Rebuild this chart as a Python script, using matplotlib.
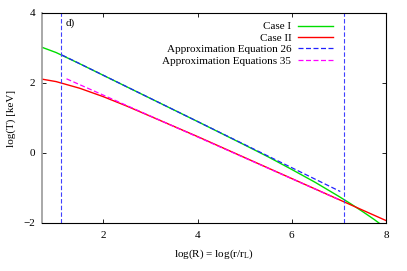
import matplotlib.pyplot as plt

# =========================
# DATA
# =========================
case1_R = [0.7, 1.0, 1.5, 2.0, 3.0, 4.0, 5.0, 5.5, 6.0, 6.5, 7.0, 7.25, 7.5, 7.75, 8.0]
case1_T = [3.02, 2.87, 2.55, 2.22, 1.56, 0.90, 0.23, -0.11, -0.47, -0.84, -1.24, -1.45, -1.67, -1.90, -2.15]

case2_R = [0.7, 1.0, 1.5, 2.0, 2.5, 3.0, 4.0, 5.0, 6.0, 7.0, 8.0]
case2_T = [2.11, 2.04, 1.85, 1.61, 1.34, 1.05, 0.47, -0.13, -0.73, -1.33, -1.93]

eq26_R = [1.125, 7.03]
eq26_T = [2.80, -1.10]

eq35_R = [1.22, 7.03]
eq35_T = [2.12, -1.35]

vlines_R = [1.1, 7.1]

# =========================
# FIGURE
# =========================
plt.rcParams["font.family"] = ["Liberation Serif", "DejaVu Serif"]
plt.rcParams["font.size"] = 8
plt.rcParams["mathtext.fontset"] = "custom"
plt.rcParams["mathtext.rm"] = "Liberation Serif"
plt.rcParams["mathtext.it"] = "Liberation Serif:italic"

fig = plt.figure(figsize=(4.07, 2.71), dpi=100)
ax = fig.add_axes([42 / 407, 48 / 271, 344 / 407, 210 / 271])

ax.plot(case1_R, case1_T, color="#00dd00", lw=1.0, label="Case I")
ax.plot(case2_R, case2_T, color="#ff0000", lw=1.0, label="Case II")
ax.plot(eq26_R, eq26_T, color="#2020ff", lw=0.9, ls=(0, (4, 2)), label="Approximation Equation 26")
ax.plot(eq35_R, eq35_T, color="#ff00ff", lw=0.9, ls=(0, (4, 2)), label="Approximation Equations 35")

for r in vlines_R:
    ax.axvline(r, color="#4040ff", lw=0.8, ls=(0, (4, 2)))

ax.set_xlim(0.7, 8)
ax.set_ylim(-2, 4)
ax.set_xticks([2, 4, 6, 8])
ax.set_yticks([-2, 0, 2, 4])
ax.tick_params(direction="in", length=3, width=0.6, top=True, right=True)
ax.tick_params(axis="x", pad=6)
ax.tick_params(axis="y", pad=5)
for s in ax.spines.values():
    s.set_linewidth(0.8)
ax.spines["left"].set_color("#999999")
ax.spines["left"].set_linewidth(1.2)

ax.set_xlabel(r"log(R) = log(r/r$_{\rm L}$)", labelpad=5)
ax.set_ylabel("log(T) [keV]", labelpad=5)

ax.text(1.2, 3.7, "d)", ha="left", va="center")

ax.legend(loc="upper right", bbox_to_anchor=(0.86, 0.98), frameon=False,
          markerfirst=False, handlelength=3.2, handletextpad=0.6,
          labelspacing=0.15, borderaxespad=0, fontsize=8)

plt.savefig("out.png", dpi=100)
plt.close()
